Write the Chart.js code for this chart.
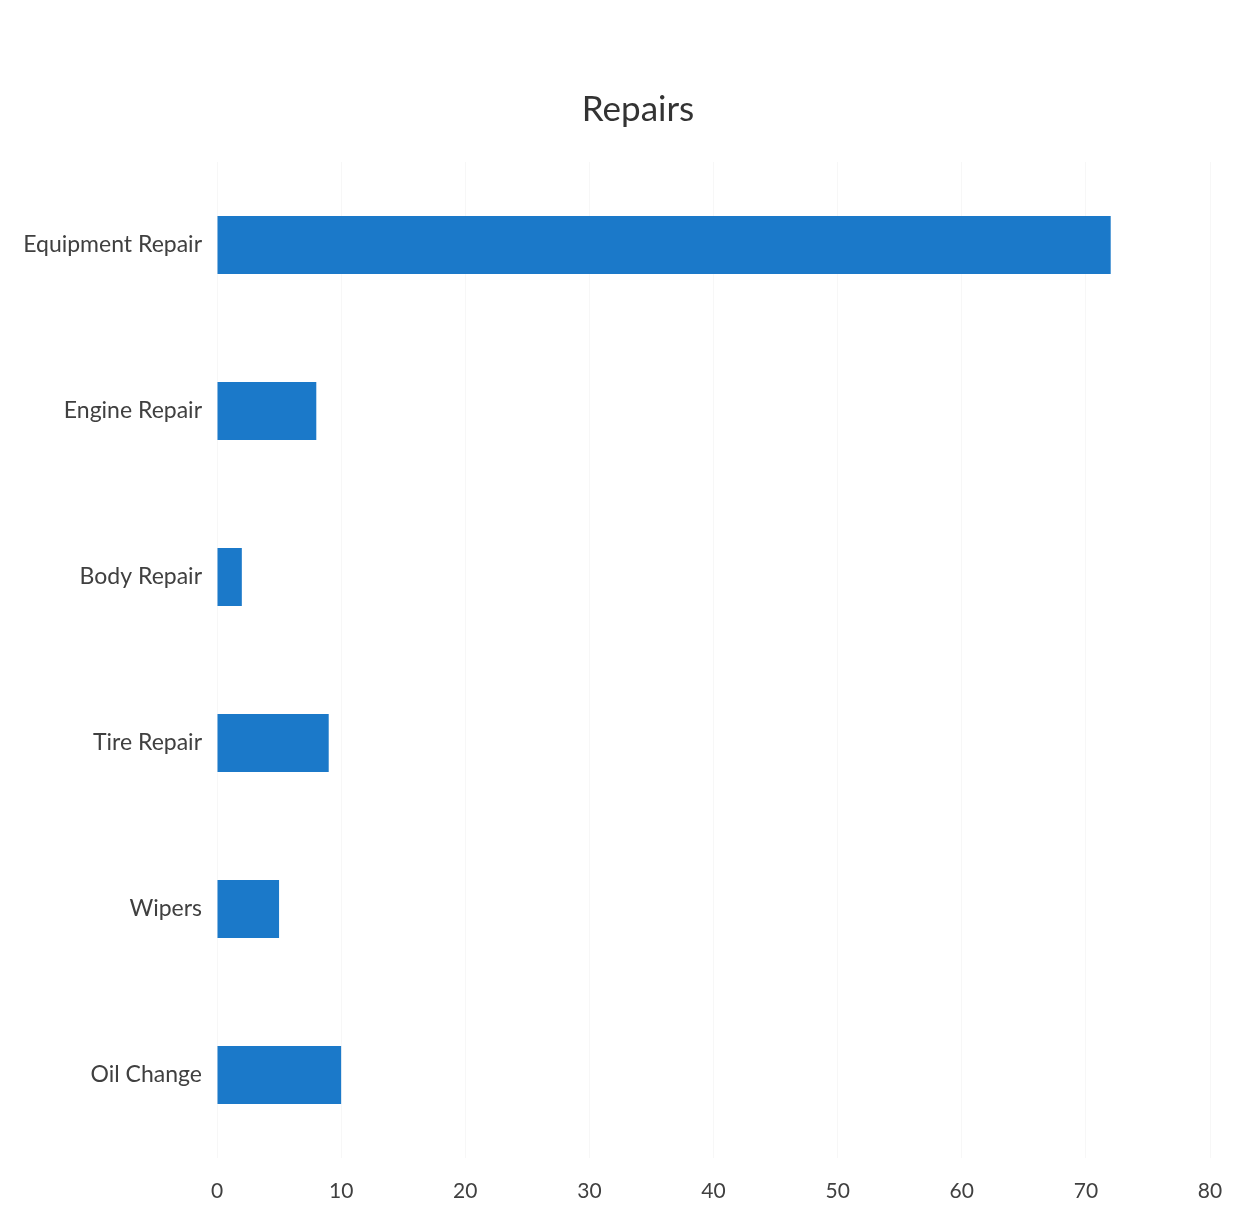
<!DOCTYPE html>
<html>
<head>
<meta charset="utf-8">
<script src="https://cdn.jsdelivr.net/npm/chart.js@4/dist/chart.umd.min.js"></script>
<style>
html,body{margin:0;padding:0;background:#fff;}
#wrap{width:1257px;height:1215px;position:relative;}
</style>
</head>
<body>
<div id="wrap"><canvas id="c" width="1257" height="1215"></canvas></div>
<script>
const categories = ["Equipment Repair", "Engine Repair", "Body Repair", "Tire Repair", "Wipers", "Oil Change"];
const repairCounts = [72, 8, 2, 9, 5, 10];
const xTicks = [0, 10, 20, 30, 40, 50, 60, 70, 80];
const chartTitle = "Repairs";

const FONT = "Lato, 'Open Sans', sans-serif";
new Chart(document.getElementById('c'), {
  type: 'bar',
  data: {
    labels: categories,
    datasets: [{
      label: chartTitle,
      data: repairCounts,
      backgroundColor: '#1b79c9',
      borderWidth: 0,
      categoryPercentage: 1,
      barPercentage: 0.35,
      yAxisID: 'y'
    }]
  },
  options: {
    indexAxis: 'y',
    responsive: false,
    animation: false,
    layout: { padding: { left: 19, right: 0, top: 0, bottom: 0 } },
    plugins: {
      legend: { display: false },
      tooltip: { enabled: false },
      title: {
        display: true,
        text: chartTitle,
        color: '#333333',
        font: { family: FONT, size: 35, weight: 'normal' },
        padding: { top: 89, bottom: 31 }
      }
    },
    scales: {
      x: {
        min: xTicks[0],
        max: xTicks[xTicks.length - 1],
        afterBuildTicks: (axis) => { axis.ticks = xTicks.map(v => ({ value: v })); },
        grid: { color: '#f7f7f7', drawTicks: false, lineWidth: 1 },
        border: { display: false },
        ticks: {
          color: '#404040',
          font: { family: FONT, size: 21 },
          padding: 21
        },
        afterFit: (axis) => { axis.height = 57; }
      },
      y: {
        position: 'left',
        grid: { display: false, drawTicks: false },
        border: { display: false },
        ticks: {
          color: '#404040',
          font: { family: FONT, size: 23 },
          padding: 15
        },
        afterFit: (axis) => { axis.width = 198; }
      },
      yRight: {
        type: 'category',
        position: 'right',
        display: true,
        grid: { display: false, drawTicks: false },
        border: { display: false },
        ticks: { display: false },
        afterFit: (axis) => { axis.width = 47; }
      }
    }
  }
});
</script>
</body>
</html>
